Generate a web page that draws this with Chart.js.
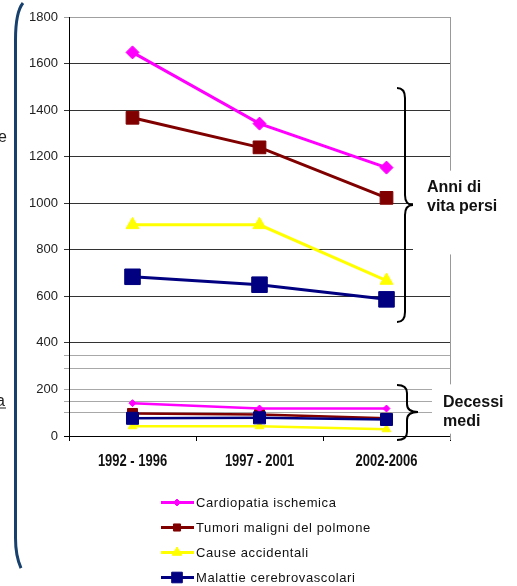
<!DOCTYPE html>
<html>
<head>
<meta charset="utf-8">
<script src="https://cdn.jsdelivr.net/npm/chart.js"></script>
<style>
  html, body { margin: 0; padding: 0; background: #fff; }
</style>
</head>
<body>
<canvas id="myChart" width="517" height="586"></canvas>
<script>
const periodi = ["1992 - 1996", "1997 - 2001", "2002-2006"];
const cause = ["Cardiopatia ischemica", "Tumori maligni del polmone", "Cause accidentali", "Malattie cerebrovascolari"];
const colori = ["#ff00ff", "#800000", "#ffff00", "#000080"];
const simboli = ["rectRot", "rect", "triangle", "rect"];

// anni di vita persi
const anniCardiopatia = [1648, 1342, 1153];
const anniTumori = [1367, 1240, 1023];
const anniAccidentali = [907, 907, 668];
const anniCerebro = [684, 650, 587];

// decessi medi
const decessiCardiopatia = [141, 118, 118];
const decessiTumori = [97, 92, 76];
const decessiAccidentali = [42, 42, 29];
const decessiCerebro = [76, 78, 71];

const yTicks = [0, 200, 400, 600, 800, 1000, 1200, 1400, 1600, 1800];
const yLineeExtra = [100, 150, 292, 345]; // righe del secondo grafico sovrapposto

const serie = (label, data, i, grande) => ({
  label: label,
  data: data,
  borderColor: colori[i],
  backgroundColor: colori[i],
  borderWidth: grande ? 3 : 2.5,
  pointStyle: simboli[i],
  pointRadius: grande ? [6.5, 9, 7.5, 11][i] : [3.5, 7, 5, 8.5][i],
  pointBorderWidth: 1,
  tension: 0,
  order: grande ? 10 + i : (i === 3 ? 0 : 5 + i),
});

const lineeDati = [
  serie(cause[0], anniCardiopatia, 0, true),
  serie(cause[1], anniTumori, 1, true),
  serie(cause[2], anniAccidentali, 2, true),
  serie(cause[3], anniCerebro, 3, true),
  serie(cause[0], decessiCardiopatia, 0, false),
  serie(cause[1], decessiTumori, 1, false),
  serie(cause[2], decessiAccidentali, 2, false),
  serie(cause[3], decessiCerebro, 3, false),
];

const graffa = (ctx, x0, xs, xTip, yTop, yMid, yBot, r) => {
  ctx.beginPath();
  ctx.moveTo(x0, yTop);
  ctx.quadraticCurveTo(xs, yTop, xs, yTop + r);
  ctx.lineTo(xs, yMid - r);
  ctx.quadraticCurveTo(xs, yMid, xTip, yMid);
  ctx.quadraticCurveTo(xs, yMid, xs, yMid + r);
  ctx.lineTo(xs, yBot - r);
  ctx.quadraticCurveTo(xs, yBot, x0, yBot);
  ctx.stroke();
};

const decorazioni = {
  id: "decorazioni",
  beforeDatasetsDraw(chart) {
    const { ctx, chartArea } = chart;
    ctx.save();
    ctx.strokeStyle = "#999";
    ctx.lineWidth = 1;
    ctx.beginPath();
    ctx.moveTo(chartArea.right + 0.5, chartArea.top);
    ctx.lineTo(chartArea.right + 0.5, chartArea.bottom + 4);
    ctx.stroke();
    ctx.restore();
  },
  afterDraw(chart) {
    const { ctx, chartArea } = chart;
    const y = chart.scales.y;
    const x = chart.scales.x;
    ctx.save();

    // etichette asse x, carattere stretto
    ctx.fillStyle = "#111";
    ctx.font = "bold 16px 'Liberation Sans', Arial, sans-serif";
    ctx.textAlign = "center";
    ctx.textBaseline = "middle";
    periodi.forEach((p, i) => {
      const px = x.getPixelForTick(i);
      ctx.save();
      ctx.translate(px, chartArea.bottom + 26);
      ctx.scale(0.81, 1);
      ctx.fillText(p, 0, 0);
      ctx.restore();
    });

    // riquadri bianchi dietro le etichette
    ctx.fillStyle = "#fff";
    ctx.fillRect(chartArea.right - 37, y.getPixelForValue(1140), 120, y.getPixelForValue(780) - y.getPixelForValue(1140));
    ctx.fillRect(chartArea.right - 18, y.getPixelForValue(222), 100, y.getPixelForValue(10) - y.getPixelForValue(222));

    // graffe
    ctx.strokeStyle = "#000";
    ctx.lineWidth = 2;
    graffa(ctx, chartArea.right - 53, chartArea.right - 45, chartArea.right - 37,
      y.getPixelForValue(1495), y.getPixelForValue(992), y.getPixelForValue(490), 10);
    graffa(ctx, chartArea.right - 53, chartArea.right - 43, chartArea.right - 32,
      y.getPixelForValue(219), y.getPixelForValue(103), y.getPixelForValue(-17), 8);

    ctx.fillStyle = "#111";
    ctx.font = "bold 16px 'Liberation Sans', Arial, sans-serif";
    ctx.textAlign = "left";
    ctx.textBaseline = "alphabetic";
    ctx.fillText("Anni di", chartArea.right - 23, 192);
    ctx.fillText("vita persi", chartArea.right - 23, 211);
    ctx.fillText("Decessi", chartArea.right - 7, 407);
    ctx.fillText("medi", chartArea.right - 7, 426);

    // bordo blu a sinistra
    ctx.strokeStyle = "#17406d";
    ctx.lineWidth = 3;
    ctx.beginPath();
    ctx.moveTo(23, 3);
    ctx.quadraticCurveTo(15.5, 12, 15.5, 40);
    ctx.lineTo(15.5, 538);
    ctx.quadraticCurveTo(15.5, 556, 21, 568);
    ctx.stroke();

    ctx.fillStyle = "#222";
    ctx.font = "16px 'Liberation Sans', Arial, sans-serif";
    ctx.textAlign = "right";
    ctx.fillText("e", 7, 142);
    ctx.fillText("a", 5, 406);
    ctx.fillRect(0, 407.5, 6, 1);

    // legenda
    ctx.font = "13px 'Liberation Sans', Arial, sans-serif";
    ctx.letterSpacing = "0.6px";
    ctx.textAlign = "left";
    ctx.textBaseline = "middle";
    cause.forEach((nome, i) => {
      const ry = 502.5 + i * 25;
      ctx.strokeStyle = colori[i];
      ctx.lineWidth = 3;
      ctx.beginPath();
      ctx.moveTo(161, ry);
      ctx.lineTo(194, ry);
      ctx.stroke();
      ctx.fillStyle = colori[i];
      ctx.lineWidth = 1;
      Chart.helpers.drawPoint(ctx, {
        pointStyle: simboli[i],
        radius: [3.5, 5, 5.5, 7.5][i],
        borderWidth: 1,
      }, 177, ry);
      ctx.fillStyle = "#111";
      ctx.fillText(nome, 196, ry + 1);
    });
    ctx.restore();
  },
};

new Chart(document.getElementById("myChart"), {
  type: "line",
  data: { labels: periodi, datasets: lineeDati },
  options: {
    responsive: false,
    animation: false,
    layout: { padding: { left: 0, top: 17, right: 67, bottom: 0 } },
    plugins: { legend: { display: false }, tooltip: { enabled: false } },
    scales: {
      x: {
        offset: true,
        grid: { drawOnChartArea: false, offset: true, tickLength: 5, color: "#000" },
        border: { color: "#000" },
        ticks: { display: false },
        afterFit: (scale) => { scale.height = 150; },
      },
      y: {
        min: 0,
        max: 1800,
        afterBuildTicks: (scale) => {
          scale.ticks = [...yTicks, ...yLineeExtra].sort((a, b) => a - b).map((v) => ({ value: v }));
        },
        afterFit: (scale) => { scale.width = 69; },
        grid: {
          tickLength: 5,
          color: (c) => {
            const v = c.tick ? c.tick.value : 0;
            if (v === 1800) return "#a0a0a0";
            if (v >= 400) return "#333";
            if (v === 0) return "#000";
            return "#a8a8a8";
          },
        },
        border: { color: "#000" },
        ticks: {
          color: "#222",
          padding: 6,
          font: { family: "'Liberation Sans', Arial, sans-serif", size: 13 },
          callback: (v) => (yTicks.includes(v) ? v : ""),
        },
      },
    },
  },
  plugins: [decorazioni],
});
</script>
</body>
</html>
